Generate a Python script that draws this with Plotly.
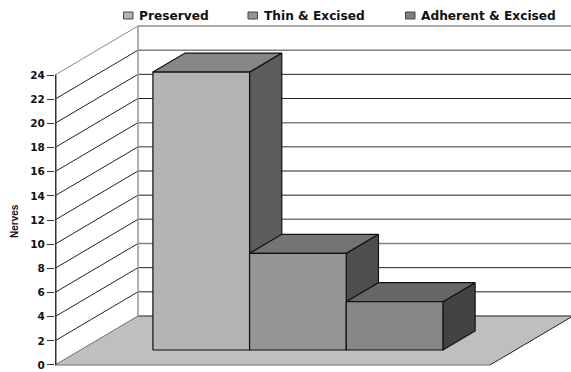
import plotly.graph_objects as go

# Chart content
series_names = ["Preserved", "Thin & Excised", "Adherent & Excised"]
series_values = [23, 8, 4]
front_colors = ["#B3B5B3", "#969696", "#878787"]
top_colors = ["#858785", "#737573", "#666866"]
side_colors = ["#5C5C5C", "#4D4F4D", "#424442"]
key_colors = ["#B3B5B3", "#969696", "#808080"]
y_ticks = list(range(0, 26, 2))
back_line_colors = ["#606060", "#222222", "#222222", "#808080", "#777777", "#222222", "#222222",
                    "#777777", "#808080", "#222222", "#222222", "#808080", "#8C8C8C"]

# Page geometry, in pixels
WIDTH, HEIGHT = 571, 372
AXIS_LEFT, AXIS_BOTTOM = 55, 365
SLOT_PX = 96.67      # width of one bar
UNIT_PX = 12.083     # height of one value unit

# Oblique projection: full depth shifts a point right and up
DEPTH_X = 83 / SLOT_PX
DEPTH_Y = 49 / UNIT_PX
GAP = 0.75           # empty slot fraction on each side of the group
Z_FRONT, Z_BACK = 0.306, 0.694
FLOOR_WIDTH = GAP * 2 + len(series_values)
WALL_RIGHT = (WIDTH - AXIS_LEFT) / SLOT_PX


def project(x, value, z):
    return x + z * DEPTH_X, value + z * DEPTH_Y


def poly(points):
    pts = [project(*p) for p in points]
    pts.append(pts[0])
    return [p[0] for p in pts], [p[1] for p in pts]


def paper_x(px):
    return (px - AXIS_LEFT) / (WIDTH - AXIS_LEFT)


def paper_y(py):
    return (HEIGHT - py) / HEIGHT


fig = go.Figure()


def add_line(points, color, width):
    xs, ys = zip(*[project(*p) for p in points])
    fig.add_trace(go.Scatter(x=xs, y=ys, mode="lines", line=dict(color=color, width=width),
                             hoverinfo="skip", showlegend=False))


def add_face(points, fill, edge="#111111", width=1.2):
    xs, ys = poly(points)
    fig.add_trace(go.Scatter(x=xs, y=ys, mode="lines", fill="toself", fillcolor=fill,
                             line=dict(color=edge, width=width), hoverinfo="skip",
                             showlegend=False))


# Floor
add_face([(0, 0, 0), (FLOOR_WIDTH, 0, 0), (FLOOR_WIDTH, 0, 1), (WALL_RIGHT, 0, 1), (0, 0, 1)],
         "#BFBFBF", edge="rgba(0,0,0,0)", width=0)

# Side wall and back wall gridlines
for tick, color in zip(y_ticks, back_line_colors):
    side = "#8A8A8A" if tick == y_ticks[-1] else "#222222"
    if tick:
        add_line([(0, tick, 0), (0, tick, 1)], side, 1)
    add_line([(0, tick, 1), (WALL_RIGHT, tick, 1)], color, 1.5 if color != "#222222" else 1)

# Wall and floor edges
add_line([(0, 0, 1), (0, y_ticks[-1], 1)], "#969696", 1.5)
add_line([(0, 0, 0), (0, 0, 1)], "#707070", 1)
add_line([(0, 0, 0), (FLOOR_WIDTH, 0, 0)], "#707070", 1.2)
add_line([(FLOOR_WIDTH, 0, 0), (FLOOR_WIDTH, 0, 1)], "#222222", 1)

# Value axis spine, nudged just inside the plot area's left edge so it is not cut
spine_x = 0.75 / SLOT_PX
add_line([(spine_x, y_ticks[0], 0), (spine_x, y_ticks[-1], 0)], "#333333", 1.5)

# Bars, left to right so later ones overlap the side of the previous one
for i, value in enumerate(series_values):
    x0, x1 = GAP + i, GAP + i + 1
    add_face([(x1, 0, Z_FRONT), (x1, 0, Z_BACK), (x1, value, Z_BACK), (x1, value, Z_FRONT)], side_colors[i])
    add_face([(x0, value, Z_FRONT), (x1, value, Z_FRONT), (x1, value, Z_BACK), (x0, value, Z_BACK)], top_colors[i])
    add_face([(x0, 0, Z_FRONT), (x1, 0, Z_FRONT), (x1, value, Z_FRONT), (x0, value, Z_FRONT)], front_colors[i])

# Empty trace that keeps the value axis (0-24 only) on the page
fig.add_trace(go.Scatter(x=[None, None], y=[y_ticks[0], y_ticks[-1]], yaxis="y2", mode="lines",
                         hoverinfo="skip", showlegend=False))

# Legend row
label_font = dict(family="DejaVu Sans", size=12.2, color="#111111", weight="bold")
key_left = [123.5, 248, 405.5]
label_left = [138, 263, 420]
shapes, annotations = [], []
for name, color, kx, lx in zip(series_names, key_colors, key_left, label_left):
    shapes.append(dict(type="rect", xref="paper", yref="paper", x0=paper_x(kx), x1=paper_x(kx + 9.5),
                       y0=paper_y(19), y1=paper_y(12), fillcolor=color,
                       line=dict(color="#444444", width=1)))
    annotations.append(dict(text=name, xref="paper", yref="paper", x=paper_x(lx), y=paper_y(16.5),
                            xanchor="left", yanchor="middle", showarrow=False, font=label_font,
                            borderpad=0))

# Axis title
annotations.append(dict(text="Nerves", xref="paper", yref="paper", x=paper_x(14), y=paper_y(221),
                        xanchor="center", yanchor="middle", textangle=-90, showarrow=False,
                        font=dict(family="Liberation Sans", size=10, color="#111111", weight="bold")))

axis_top = AXIS_BOTTOM - y_ticks[-1] * UNIT_PX
fig.update_layout(
    width=WIDTH, height=HEIGHT,
    margin=dict(l=AXIS_LEFT, r=0, t=0, b=0, pad=0),
    paper_bgcolor="white", plot_bgcolor="rgba(0,0,0,0)", showlegend=False,
    shapes=shapes, annotations=annotations,
    xaxis=dict(visible=False, range=[0, WALL_RIGHT], fixedrange=True, automargin=False),
    # Drawing scale covers the whole page height; the visible axis sits on top with the same unit size
    yaxis=dict(visible=False, range=[(AXIS_BOTTOM - HEIGHT) / UNIT_PX, AXIS_BOTTOM / UNIT_PX],
               fixedrange=True, automargin=False),
    yaxis2=dict(domain=[paper_y(AXIS_BOTTOM), paper_y(axis_top)], range=[y_ticks[0], y_ticks[-1]],
                anchor="x", automargin=False, tickvals=y_ticks, ticktext=[str(t) for t in y_ticks],
                ticks="outside", ticklen=7, tickwidth=1, tickcolor="#333333",
                showline=False, layer="above traces",
                showgrid=False, zeroline=False, fixedrange=True,
                tickfont=dict(family="DejaVu Sans", size=10.5, color="#111111", weight="bold")),
)

fig.write_html("out.html", config={"displayModeBar": False})
